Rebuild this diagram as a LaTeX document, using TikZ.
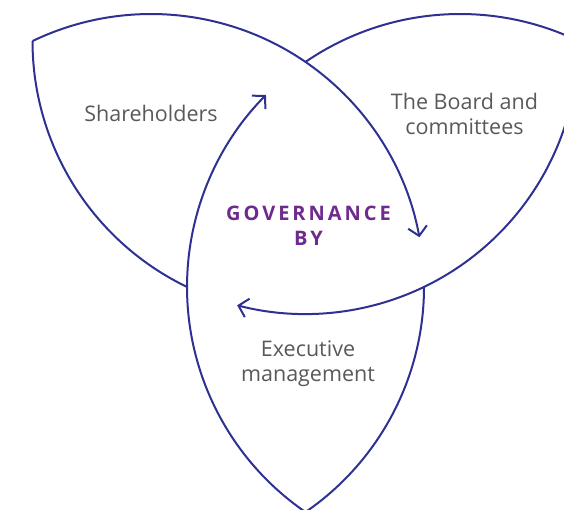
\documentclass[tikz,border=0pt]{standalone}
\usepackage{fontspec}
\setmainfont{Open Sans}
\usetikzlibrary{arrows.meta}
\definecolor{leafblue}{HTML}{2E3192}
\definecolor{govpurple}{HTML}{6E2A8D}
\definecolor{labelgrey}{HTML}{58595B}

\begin{document}
\begin{tikzpicture}[x=1pt,y=1pt,
        leaf/.style={draw=leafblue,line width=2pt},
        flow/.style={leaf,-{Straight Barb[length=9pt,width=19pt]}},
        lbl/.style={font=\fontsize{21.5}{25}\selectfont,text=labelgrey,align=center},
        hub/.style={font=\fontsize{20}{25}\selectfont\bfseries\addfontfeatures{LetterSpace=15},
                    text=govpurple,align=center}]
      \useasboundingbox (0,0) rectangle (564,509);
      \clip (0,0) rectangle (564,509);
      \coordinate (ca) at (151,222);
      \coordinate (cb) at (460,222);
      \coordinate (cc) at (305.5,468);
      \draw[flow] (ca) ++(115.7:273) arc[start angle=115.7,end angle=10.5,radius=273];
      \draw[leaf] (ca) ++(0:273) arc[start angle=0,end angle=-55.5,radius=273];
      \draw[flow] (cb) ++(235.5:273) arc[start angle=235.5,end angle=135.3,radius=273];
      \draw[leaf] (cb) ++(124.5:273) arc[start angle=124.5,end angle=60,radius=273];
      \draw[leaf] (cc) ++(180:273) arc[start angle=180,end angle=244.3,radius=273];
      \draw[flow] (cc) ++(-10:273) arc[start angle=-10,end angle=-104.5,radius=273];
      \node[lbl] (share) at (151,396) {Shareholders};
      \node[lbl] (board) at (464.5,395.5) {The Board and\\committees};
      \node[lbl] (exec) at (308,145) {Executive\\management};
      \node[hub] (gov) at (308.5,283.5) {GOVERNANCE\\BY};
    \end{tikzpicture}
\end{document}
